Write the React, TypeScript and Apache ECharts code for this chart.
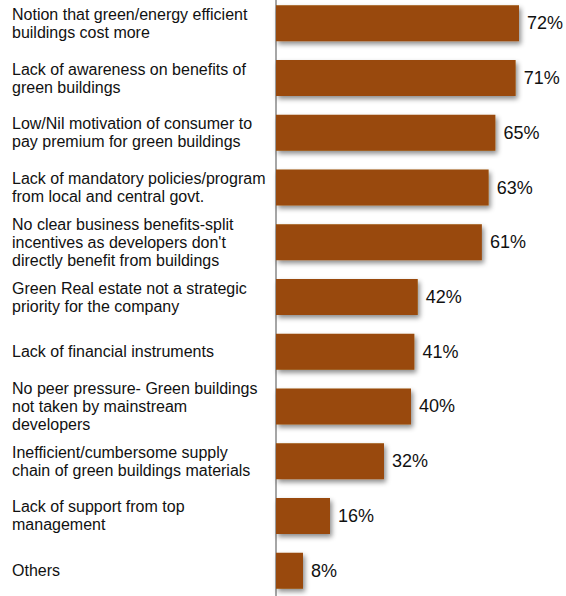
import React, { useEffect, useRef } from "react";
import * as echarts from "echarts";

const categories = [
  "Notion that green/energy efficient\nbuildings cost more",
  "Lack of awareness on benefits of\ngreen buildings",
  "Low/Nil motivation of consumer to\npay premium for green buildings",
  "Lack of mandatory policies/program\nfrom local and central govt.",
  "No clear business benefits-split\nincentives as developers don't\ndirectly benefit from buildings",
  "Green Real estate not a strategic\npriority for the company",
  "Lack of financial instruments",
  "No peer pressure- Green buildings\nnot taken by mainstream\ndevelopers",
  "Inefficient/cumbersome supply\nchain of green buildings materials",
  "Lack of support from top\nmanagement",
  "Others",
];
const values = [72, 71, 65, 63, 61, 42, 41, 40, 32, 16, 8];

export default function App() {
  const ref = useRef<HTMLDivElement>(null);
  useEffect(() => {
    if (!ref.current) return;
    const chart = echarts.init(ref.current, null, { renderer: "svg" });
    chart.setOption({
      animation: false,
      grid: { left: 276, right: 20, top: 0, bottom: 0, containLabel: false },
      xAxis: {
        type: "value",
        min: 0,
        max: 80,
        show: false,
      },
      yAxis: {
        type: "category",
        inverse: true,
        data: categories,
        axisTick: { show: false },
        axisLine: { show: true, lineStyle: { color: "#a6a6a6", width: 2 } },
        axisLabel: {
          align: "left",
          margin: 264,
          fontFamily: "Liberation Sans, Arial, sans-serif",
          fontSize: 16,
          lineHeight: 18,
          color: "#111111",
        },
      },
      series: [
        {
          type: "bar",
          data: values,
          barWidth: 36,
          itemStyle: {
            color: "#994a09",
            shadowBlur: 5,
            shadowColor: "rgba(0,0,0,0.45)",
            shadowOffsetX: 2,
            shadowOffsetY: 3,
          },
          label: {
            show: true,
            position: "right",
            distance: 8,
            formatter: "{c}%",
            fontFamily: "Liberation Sans, Arial, sans-serif",
            fontSize: 18,
            color: "#111111",
          },
        },
      ],
    });
    return () => chart.dispose();
  }, []);
  return <div ref={ref} style={{ width: 566, height: 602, position: "absolute", left: 0, top: -4 }} />;
}
